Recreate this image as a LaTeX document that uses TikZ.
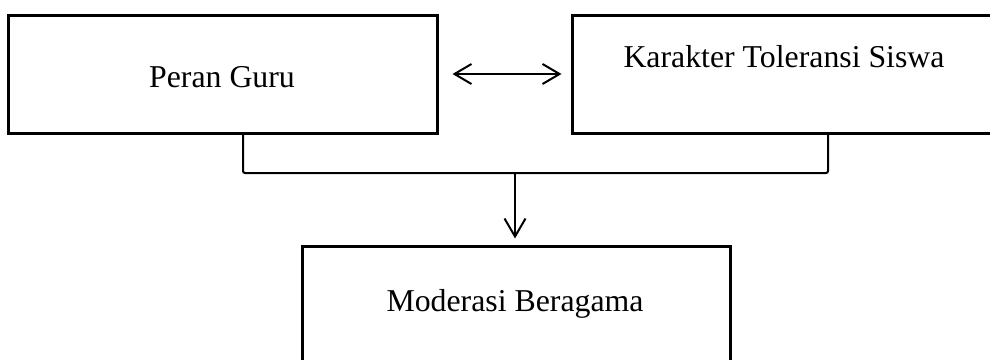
\documentclass[tikz,border=0pt]{standalone}
\usepackage{fontspec}
\setmainfont{Liberation Serif}
\usetikzlibrary{arrows.meta,calc}
\begin{document}
\begin{tikzpicture}[x=1pt,y=-1pt,
  frame/.style={draw=black,line width=3pt,minimum width=#1,inner sep=0pt},
  caption/.style={anchor=base,font=\fontsize{31.8}{38}\selectfont,inner sep=0pt},
  link/.style={draw=black,line width=2pt}]
  \useasboundingbox (0,0) rectangle (990,359);
  \clip (0,0) rectangle (990,359);
  % boxes
  \node[frame=429pt,minimum height=118pt] (guru) at (222.5,74) {};
  \node[frame=428pt,minimum height=118pt] (siswa) at (786,74) {};
  \node[frame=428pt,minimum height=134pt] (moderasi) at (516,313) {};
  % texts
  \node[caption] (tguru) at (222,87) {Peran Guru};
  \node[caption] (tsiswa) at (784,67) {Karakter Toleransi Siswa};
  \node[caption] (tmod) at (515,311) {Moderasi Beragama};
  % double arrow between the upper boxes
  \draw[link,{Straight Barb[length=17pt,width=20pt,line width=2pt]}-{Straight Barb[length=17pt,width=20pt,line width=2pt]},
        shorten <=14pt,shorten >=9pt] (guru.east) -- (siswa.west);
  % bracket joining the upper boxes
  \coordinate (bl) at (243,173);
  \coordinate (br) at (828,173);
  \coordinate (bm) at (515,173);
  \draw[link,rounded corners=2pt] (guru.south -| bl) -- (bl) -- (br) -- (siswa.south -| br);
  % arrow to the lower box
  \draw[link,-{Straight Barb[length=18pt,width=21pt,line width=2pt]},shorten >=6pt] (bm) -- (bm |- moderasi.north);
\end{tikzpicture}
\end{document}
